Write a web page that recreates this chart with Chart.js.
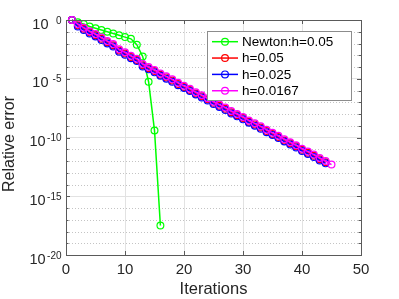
<!DOCTYPE html>
<html>
<head>
<meta charset="utf-8">
<script src="https://cdn.jsdelivr.net/npm/chart.js@4.4.1/dist/chart.umd.min.js"></script>
<style>
  html, body { margin: 0; padding: 0; background: #fff; }
  #wrap { width: 399px; height: 299px; }
</style>
</head>
<body>
<div id="wrap"><canvas id="grafico" width="399" height="299"></canvas></div>
<script>
// valores
const iteracoes = [1, 2, 3, 4, 5, 6, 7, 8, 9, 10, 11, 12, 13, 14, 15, 16, 17, 18, 19, 20,
  21, 22, 23, 24, 25, 26, 27, 28, 29, 30, 31, 32, 33, 34, 35, 36, 37, 38, 39, 40,
  41, 42, 43, 44, 45];

const erroNewton = [1, 6.3e-1, 4.5e-1, 2.8e-1, 2.0e-1, 1.4e-1, 1.0e-1, 7.1e-2, 5.0e-2, 3.5e-2,
  2.5e-2, 7.9e-3, 7.9e-4, 5.6e-6, 4.0e-10, 3.2e-18];

const erroH005 = [1, 3.5e-1, 1.8e-1, 8.9e-2, 5.0e-2, 2.5e-2, 1.3e-2, 7.1e-3, 2.5e-3, 1.4e-3,
  7.1e-4, 4.0e-4, 1.4e-4, 7.9e-5, 4.5e-5, 2.2e-5, 1.3e-5, 7.1e-6, 3.5e-6, 2.0e-6,
  1.1e-6, 5.6e-7, 3.2e-7, 1.8e-7, 8.9e-8, 5.0e-8, 2.8e-8, 1.4e-8, 7.9e-9, 4.5e-9,
  2.2e-9, 1.3e-9, 7.1e-10, 3.5e-10, 2.0e-10, 1.1e-10, 5.6e-11, 3.2e-11, 1.8e-11, 8.9e-12,
  5.0e-12, 2.8e-12, 1.4e-12, 7.9e-13];

const erroH0025 = [1, 2.8e-1, 1.4e-1, 7.1e-2, 4.0e-2, 2.0e-2, 1.0e-2, 5.6e-3, 2.0e-3, 1.1e-3,
  5.6e-4, 3.2e-4, 1.1e-4, 6.3e-5, 3.5e-5, 1.8e-5, 1.0e-5, 5.6e-6, 2.8e-6, 1.6e-6,
  8.9e-7, 4.5e-7, 2.5e-7, 1.4e-7, 7.1e-8, 4.0e-8, 2.2e-8, 1.1e-8, 6.3e-9, 3.5e-9,
  1.8e-9, 1.0e-9, 5.6e-10, 2.8e-10, 1.6e-10, 8.9e-11, 4.5e-11, 2.5e-11, 1.4e-11, 7.1e-12,
  4.0e-12, 2.2e-12, 1.1e-12, 6.3e-13];

const erroH00167 = [1, 4.5e-1, 2.2e-1, 1.1e-1, 6.3e-2, 3.2e-2, 1.6e-2, 8.9e-3, 3.2e-3, 1.8e-3,
  8.9e-4, 5.0e-4, 1.8e-4, 1.0e-4, 5.6e-5, 2.8e-5, 1.6e-5, 8.9e-6, 4.5e-6, 2.5e-6,
  1.4e-6, 7.1e-7, 4.0e-7, 2.2e-7, 1.1e-7, 6.3e-8, 3.5e-8, 1.8e-8, 1.0e-8, 5.6e-9,
  2.8e-9, 1.6e-9, 8.9e-10, 4.5e-10, 2.5e-10, 1.4e-10, 7.1e-11, 4.0e-11, 2.2e-11, 1.1e-11,
  6.3e-12, 3.5e-12, 1.8e-12, 1.0e-12, 5.0e-13];

const legendas = ['Newton:h=0.05', 'h=0.05', 'h=0.025', 'h=0.0167'];
const cores = ['#00ff00', '#ff0000', '#0000ff', '#ff00ff'];

const xTicks = [0, 10, 20, 30, 40, 50];
const yExpoentes = [0, -5, -10, -15, -20];   // rótulos 10^n
const yDecadas = [0, -1, -2, -3, -4, -5, -6, -7, -8, -9, -10, -11, -12, -13, -14, -15,
  -16, -17, -18, -19, -20];

const FONTE = 'Helvetica, Arial, "Liberation Sans", sans-serif';

function pontos(valores) {
  return valores.map((v, i) => ({ x: iteracoes[i], y: v }));
}

const series = [erroNewton, erroH005, erroH0025, erroH00167];

const datasets = series.map((s, i) => ({
  label: legendas[i],
  data: pontos(s),
  borderColor: cores[i],
  backgroundColor: cores[i],
  borderWidth: 1.5,
  pointRadius: 3.4,
  pointBorderWidth: 1.2,
  pointBackgroundColor: 'rgba(0,0,0,0)',
  pointBorderColor: cores[i],
  tension: 0,
  clip: false,
  order: 4 - i // magenta por cima, como no original
}));

// grade pontilhada, caixa, marcas, rótulos 10^n, título do eixo y e legenda
const extras = {
  id: 'extras',
  beforeDatasetsDraw(chart) {
    const { ctx, chartArea: a, scales: { y } } = chart;
    ctx.save();
    ctx.strokeStyle = '#c4c4c4';
    ctx.lineWidth = 1;
    ctx.setLineDash([1, 2]);
    yDecadas.forEach(d => {
      if (d % 5 === 0) return;
      const py = Math.round(y.getPixelForValue(Math.pow(10, d))) + 0.5;
      ctx.beginPath();
      ctx.moveTo(a.left, py);
      ctx.lineTo(a.right, py);
      ctx.stroke();
    });
    ctx.restore();
  },
  afterDraw(chart) {
    const { ctx, chartArea: a, scales: { x, y } } = chart;
    ctx.save();
    // caixa do eixo
    ctx.strokeStyle = '#5a5a5a';
    ctx.lineWidth = 1;
    ctx.strokeRect(Math.round(a.left) + 0.5, Math.round(a.top) + 0.5,
      Math.round(a.right - a.left), Math.round(a.bottom - a.top));

    // marcas internas
    ctx.beginPath();
    yDecadas.forEach(d => {
      const py = Math.round(y.getPixelForValue(Math.pow(10, d))) + 0.5;
      const len = d % 5 === 0 ? 4 : 2.5;
      ctx.moveTo(a.left, py); ctx.lineTo(a.left + len, py);
      ctx.moveTo(a.right, py); ctx.lineTo(a.right - len, py);
    });
    xTicks.forEach(t => {
      const px = Math.round(x.getPixelForValue(t)) + 0.5;
      ctx.moveTo(px, a.bottom); ctx.lineTo(px, a.bottom - 4);
      ctx.moveTo(px, a.top); ctx.lineTo(px, a.top + 4);
    });
    ctx.stroke();

    // rótulos 10^n
    ctx.fillStyle = '#262626';
    ctx.textAlign = 'right';
    ctx.textBaseline = 'alphabetic';
    yExpoentes.forEach(e => {
      const py = y.getPixelForValue(Math.pow(10, e));
      const dir = a.left - 3;
      ctx.font = '10px ' + FONTE;
      const exp = String(e);
      const w = ctx.measureText(exp).width;
      ctx.fillText(exp, dir - 1.5, py + 3.5);
      ctx.font = '14.5px ' + FONTE;
      ctx.fillText('10', Math.min(48.5, dir - w - 3), py + 8.5);
    });

    // título do eixo y
    ctx.save();
    ctx.translate(10, 144);
    ctx.rotate(-Math.PI / 2);
    ctx.textAlign = 'center';
    ctx.textBaseline = 'middle';
    ctx.font = '16px ' + FONTE;
    ctx.fillText('Relative error', 0, 0);
    ctx.restore();

    // legenda
    const lx = 207.5, ly = 31.5, lw = 144, lh = 69;
    ctx.fillStyle = '#ffffff';
    ctx.fillRect(lx, ly, lw, lh);
    ctx.strokeStyle = '#8c8c8c';
    ctx.strokeRect(lx, ly, lw, lh);
    ctx.textAlign = 'left';
    ctx.textBaseline = 'middle';
    ctx.font = '13.5px ' + FONTE;
    chart.data.datasets.forEach((ds, i) => {
      const ry = 41.7 + i * 16.35;
      ctx.strokeStyle = ds.borderColor;
      ctx.lineWidth = 1.5;
      ctx.beginPath();
      ctx.moveTo(212, ry); ctx.lineTo(238, ry);
      ctx.stroke();
      ctx.lineWidth = 1.2;
      ctx.beginPath();
      ctx.arc(225, ry, 3.4, 0, Math.PI * 2);
      ctx.stroke();
      ctx.fillStyle = '#000000';
      ctx.fillText(ds.label, 242, ry + 0.5);
    });
    ctx.restore();
  }
};

const ctx = document.getElementById('grafico').getContext('2d');
const grafico = new Chart(ctx, {
  type: 'line',
  data: { datasets: datasets },
  plugins: [extras],
  options: {
    responsive: false,
    devicePixelRatio: 1,
    animation: false,
    layout: { padding: { top: 20, right: 38, left: 0, bottom: 0 } },
    plugins: {
      legend: { display: false },
      tooltip: { enabled: false }
    },
    scales: {
      x: {
        type: 'linear',
        min: 0,
        max: 50,
        afterFit: s => { s.height = 44; },
        afterBuildTicks: s => { s.ticks = xTicks.map(v => ({ value: v })); },
        ticks: {
          padding: 6,
          color: '#262626',
          font: { family: FONTE, size: 15 },
          maxRotation: 0
        },
        grid: {
          color: '#e2e2e2',
          drawTicks: false
        },
        border: { display: false },
        title: {
          display: true,
          text: 'Iterations',
          color: '#262626',
          padding: 0,
          font: { family: FONTE, size: 16.5 }
        }
      },
      y: {
        type: 'logarithmic',
        min: 1e-20,
        max: 1,
        afterFit: s => { s.width = 66; },
        afterBuildTicks: s => { s.ticks = yDecadas.map(d => ({ value: Math.pow(10, d) })); },
        ticks: { display: false },
        grid: {
          color: c => (c.tick && Math.round(Math.log10(c.tick.value)) % 5 === 0) ? '#e2e2e2' : 'rgba(0,0,0,0)',
          drawTicks: false
        },
        border: { display: false },
        title: { display: false }
      }
    }
  }
});
</script>
</body>
</html>
